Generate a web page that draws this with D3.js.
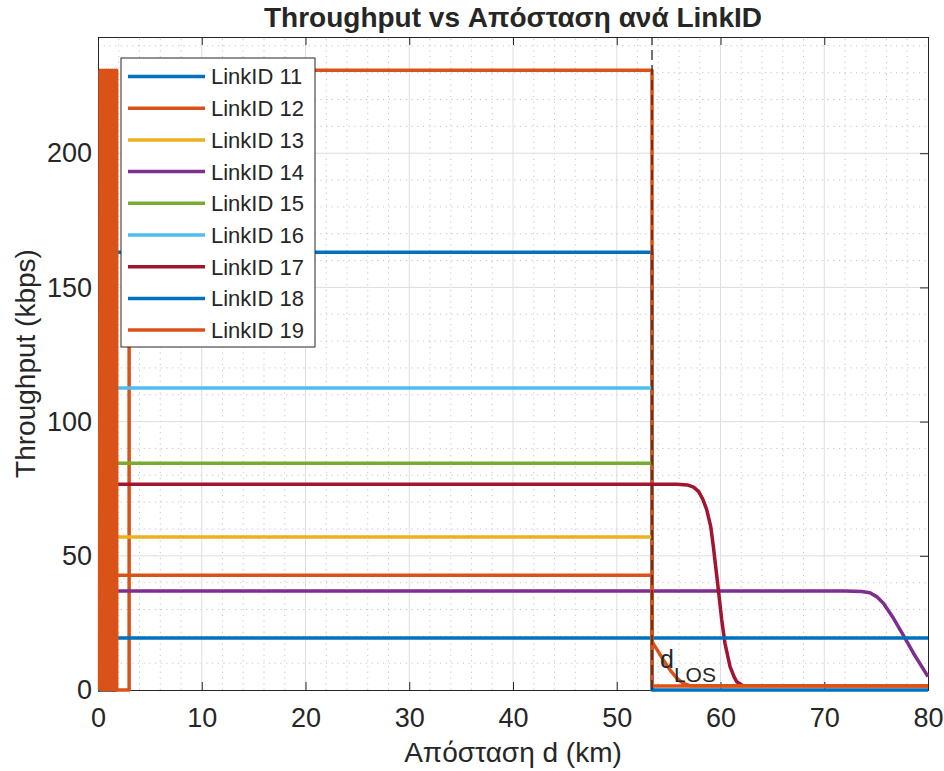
<!DOCTYPE html>
<html>
<head>
<meta charset="utf-8">
<script src="https://cdn.jsdelivr.net/npm/d3@7"></script>
<style>
  body { margin: 0; background: #fff; }
  text { font-family: "Liberation Sans", Arial, Helvetica, sans-serif; fill: #262626; }
</style>
</head>
<body>
<svg id="chart" width="944" height="771"></svg>
<script>
// Axis ticks
const xTicks = [0, 10, 20, 30, 40, 50, 60, 70, 80];
const yTicks = [0, 50, 100, 150, 200];
const xMinorTicks = d3.range(0, 81, 2);
const yMinorTicks = d3.range(0, 241, 10);

// Links and their line colours
const linkIds = [11, 12, 13, 14, 15, 16, 17, 18, 19];
const linkColors = ["#0072BD", "#D95319", "#EDB120", "#7E2F8E", "#77AC30",
                    "#4DBEEE", "#A2142F", "#0072BD", "#D95319"];

// Distance (km) and throughput (kbps) per link
const dist11 = [0, 1.65, 1.65, 53.4, 53.4, 80];
const thr11  = [0, 0, 163.1, 163.1, 0, 0];

const dist12 = [0, 3.0, 3.0, 53.4, 53.4, 80];
const thr12  = [0, 0, 230.9, 230.9, 1.5, 1.5];

const dist13 = [0, 1.65, 1.65, 53.4];
const thr13  = [0, 0, 57.0, 57.0];

const dist14 = [0, 1.65, 1.65, 72.0, 73.6, 74.4, 75.05, 75.7, 76.66, 77.6, 78.6, 80];
const thr14  = [0, 0, 36.9, 36.9, 36.7, 36.2, 34.8, 32.3, 26.8, 20.5, 13.7, 5.0];

const dist15 = [0, 1.65, 1.65, 53.4];
const thr15  = [0, 0, 84.5, 84.5];

const dist16 = [0, 1.65, 1.65, 53.4];
const thr16  = [0, 0, 112.5, 112.5];

const dist17 = [0, 1.65, 1.65, 55.8, 56.8, 57.4, 57.9, 58.3, 58.67, 59.06, 59.31,
                59.57, 59.83, 60.12, 60.43, 60.92, 61.3, 61.56, 62.2];
const thr17  = [0, 0, 76.7, 76.7, 76.4, 75.6, 73.9, 71.0, 67.2, 60.9, 53.5,
                44.8, 36.1, 26.1, 17.4, 8.7, 5.0, 3.1, 1.5];

const dist18 = [0, 1.65, 1.65, 80];
const thr18  = [0, 0, 19.4, 19.4];

const dist19 = [0.15, 0.2, 0.3, 0.4, 0.5, 0.6, 0.7, 0.8, 0.9, 1.0, 1.1, 1.2,
                1.3, 1.4, 1.5, 1.6, 1.7, 1.8, 1.8, 1.8, 53.4, 53.4, 54.0, 54.49,
                55.13, 55.78, 56.41, 57.06, 80];
const thr19  = [0, 230.9, 0, 230.9, 0, 230.9, 0, 230.9, 0, 230.9, 0, 230.9,
                0, 230.9, 0, 230.9, 0, 0, 230.9, 42.8, 42.8, 18.0, 14.3, 11.2,
                7.5, 4.4, 2.5, 1.6, 1.5];

const dLos = 53.4;

const distances = [dist11, dist12, dist13, dist14, dist15, dist16, dist17, dist18, dist19];
const throughputs = [thr11, thr12, thr13, thr14, thr15, thr16, thr17, thr18, thr19];

const series = linkIds.map((id, i) => ({
  id,
  color: linkColors[i],
  points: distances[i].map((d, j) => [d, throughputs[i][j]])
}));

// Layout
const svg = d3.select("#chart");
const margin = { left: 98, right: 16, top: 37, bottom: 81 };
const W = 944, H = 771;
const x = d3.scaleLinear().domain([0, 80]).range([margin.left, W - margin.right]);
const y = d3.scaleLinear().domain([0, 243.3]).range([H - margin.bottom, margin.top]);
const [x0, x1] = x.range();
const [y0, y1] = y.range();

svg.append("defs").append("clipPath").attr("id", "plotClip")
  .append("rect")
  .attr("x", x0 - 3).attr("y", y1 - 3)
  .attr("width", x1 - x0 + 6).attr("height", y0 - y1 + 6);

// Minor grid (dotted)
const minor = svg.append("g").attr("class", "minor-grid")
  .attr("stroke", "#c4c4c4").attr("stroke-width", 1).attr("stroke-dasharray", "1.2,4.5");
minor.selectAll("line.vx").data(xMinorTicks.filter(v => v % 10 !== 0)).join("line")
  .attr("x1", d => x(d)).attr("x2", d => x(d)).attr("y1", y0).attr("y2", y1);
minor.selectAll("line.hy").data(yMinorTicks.filter(v => v % 50 !== 0 && v < 243)).join("line")
  .attr("x1", x0).attr("x2", x1).attr("y1", d => y(d)).attr("y2", d => y(d));

// Major grid (solid)
const major = svg.append("g").attr("class", "major-grid")
  .attr("stroke", "#dedede").attr("stroke-width", 1);
major.selectAll("line.vx").data(xTicks.slice(1, -1)).join("line")
  .attr("x1", d => x(d)).attr("x2", d => x(d)).attr("y1", y0).attr("y2", y1);
major.selectAll("line.hy").data(yTicks.slice(1)).join("line")
  .attr("x1", x0).attr("x2", x1).attr("y1", d => y(d)).attr("y2", d => y(d));

// Axes with inward ticks on all four sides
const tickLen = 8;
const bottomAxis = svg.append("g").attr("transform", `translate(0,${y0})`)
  .call(d3.axisBottom(x).tickValues(xTicks).tickSize(-tickLen).tickPadding(18).tickFormat(d3.format("d")));
const leftAxis = svg.append("g").attr("transform", `translate(${x0},0)`)
  .call(d3.axisLeft(y).tickValues(yTicks).tickSize(-tickLen).tickPadding(6).tickFormat(d3.format("d")));
const topAxis = svg.append("g").attr("transform", `translate(0,${y1})`)
  .call(d3.axisTop(x).tickValues(xTicks).tickSize(-tickLen).tickFormat(""));
const rightAxis = svg.append("g").attr("transform", `translate(${x1},0)`)
  .call(d3.axisRight(y).tickValues(yTicks).tickSize(-tickLen).tickFormat(""));

[bottomAxis, leftAxis, topAxis, rightAxis].forEach(g => {
  g.select(".domain").attr("stroke", "#262626").attr("stroke-width", 1);
  g.selectAll(".tick line").attr("stroke", "#262626");
  g.selectAll(".tick text").attr("font-size", 27).attr("fill", "#262626")
    .attr("font-family", "'Liberation Sans', Arial, sans-serif");
});

// Series lines
const line = d3.line().x(d => x(d[0])).y(d => y(d[1]));
svg.append("g").attr("clip-path", "url(#plotClip)")
  .selectAll("path").data(series).join("path")
  .attr("d", d => line(d.points))
  .attr("fill", "none")
  .attr("stroke", d => d.color)
  .attr("stroke-width", 3.5)
  .attr("stroke-linejoin", "round");

// Line-of-sight distance marker
svg.append("line")
  .attr("x1", x(dLos)).attr("x2", x(dLos)).attr("y1", y0).attr("y2", y1)
  .attr("stroke", "#262626").attr("stroke-width", 1.5)
  .attr("stroke-dasharray", "10,5").attr("stroke-opacity", 0.85);

const losLabel = svg.append("text")
  .attr("x", x(dLos) + 8).attr("y", 668)
  .attr("font-size", 25);
losLabel.append("tspan").text("d");
losLabel.append("tspan").attr("font-size", 21).attr("dy", 14).text("LOS");

// Legend
const legend = svg.append("g").attr("transform", "translate(121,58)");
legend.append("rect")
  .attr("width", 194).attr("height", 289)
  .attr("fill", "#fff").attr("stroke", "#262626").attr("stroke-width", 1);
const rowH = 31.7;
const items = legend.selectAll("g.item").data(series).join("g")
  .attr("transform", (d, i) => `translate(0,${18.5 + i * rowH})`);
items.append("line")
  .attr("x1", 7).attr("x2", 84).attr("y1", 0).attr("y2", 0)
  .attr("stroke", d => d.color).attr("stroke-width", 3.5);
items.append("text")
  .attr("x", 90).attr("y", 0).attr("dy", "0.36em")
  .attr("font-size", 22)
  .text(d => `LinkID ${d.id}`);

// Axis labels and title
svg.append("text")
  .attr("x", (x0 + x1) / 2).attr("y", 762)
  .attr("text-anchor", "middle").attr("font-size", 28)
  .text("Απόσταση d (km)");
svg.append("text")
  .attr("transform", `translate(35,${(y0 + y1) / 2}) rotate(-90)`)
  .attr("text-anchor", "middle").attr("font-size", 28)
  .text("Throughput (kbps)");
svg.append("text")
  .attr("x", (x0 + x1) / 2).attr("y", 27)
  .attr("text-anchor", "middle").attr("font-size", 28).attr("font-weight", "bold")
  .attr("fill", "#000")
  .text("Throughput vs Απόσταση ανά LinkID");
</script>
</body>
</html>
